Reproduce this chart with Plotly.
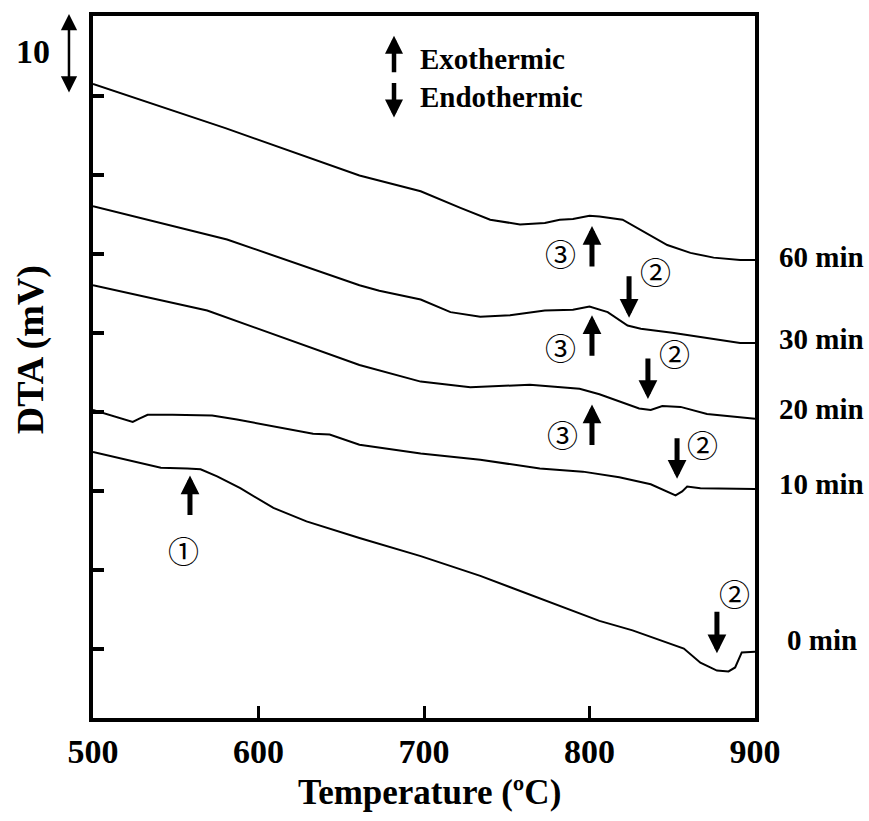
import plotly.graph_objects as go

# DTA traces (temperature in °C, DTA signal in mV, curves offset vertically)
temp_60 = [500, 580, 661, 698, 722, 740, 758, 773, 782, 790, 800, 806, 820, 831, 847, 861, 875, 891, 900]
dta_60 = [71.5, 65.9, 59.9, 57.9, 55.8, 54.3, 53.7, 53.9, 54.3, 54.4, 54.8, 54.7, 54.3, 53.0, 51.1, 50.1, 49.5, 49.2, 49.2]

temp_30 = [500, 581, 661, 673, 698, 716, 734, 752, 773, 790, 800, 811, 823, 831, 850, 875, 891, 900]
dta_30 = [56.0, 51.8, 46.0, 45.3, 44.2, 42.6, 42.0, 42.2, 42.8, 42.9, 43.3, 42.6, 40.9, 40.5, 40.0, 39.2, 38.7, 38.7]

temp_20 = [500, 569, 661, 698, 728, 764, 794, 806, 830, 837, 844, 855, 871, 900]
dta_20 = [46.0, 42.8, 35.9, 33.8, 33.1, 33.4, 32.9, 32.2, 30.4, 30.2, 30.7, 30.6, 29.7, 29.1]

temp_10 = [500, 518, 524, 528, 533, 548, 572, 587, 609, 633, 643, 661, 698, 734, 770, 796, 818, 837, 852, 856, 859, 867, 900]
dta_10 = [30.2, 29.0, 28.7, 29.1, 29.6, 29.6, 29.5, 29.0, 28.1, 27.2, 27.1, 25.8, 24.7, 23.9, 22.8, 22.4, 21.7, 20.8, 19.4, 19.9, 20.5, 20.3, 20.2]

temp_0 = [500, 533, 541, 557, 565, 575, 589, 609, 629, 661, 698, 734, 770, 806, 826, 857, 867, 877, 884, 888, 892, 900]
dta_0 = [24.9, 23.3, 22.9, 22.8, 22.7, 21.8, 20.3, 17.8, 16.1, 14.0, 11.7, 9.2, 6.3, 3.5, 2.3, 0.0, -1.8, -2.8, -2.9, -2.4, -0.5, -0.4]

series_labels = ["60 min", "30 min", "20 min", "10 min", "0 min"]
x_ticks = [500, 600, 700, 800, 900]
y_ticks = [0, 10, 20, 30, 40, 50, 60, 70]

SERIF = "Liberation Serif"
CIRC = "Noto Sans CJK JP"


def bold(size):
    return dict(family=SERIF, size=size, color="black", weight="bold")


fig = go.Figure()
for tx, ty in [(temp_60, dta_60), (temp_30, dta_30), (temp_20, dta_20),
               (temp_10, dta_10), (temp_0, dta_0)]:
    fig.add_trace(go.Scatter(x=tx, y=ty, mode="lines",
                             line=dict(color="black", width=2),
                             showlegend=False, hoverinfo="skip"))

ann = []

# curve labels to the right of the frame (paper coordinates)
label_pos = [(1.033, 0.657), (1.033, 0.540), (1.033, 0.4405), (1.033, 0.334),
             (1.045, 0.1105)]
for (lx, ly), txt in zip(label_pos, series_labels):
    ann.append(dict(x=lx, y=ly, xref="paper", yref="paper", text=txt,
                    showarrow=False, xanchor="left", yanchor="middle",
                    font=bold(29)))

# event arrows: (temperature, tip DTA, tail offset px)
arrows = [(558.6, 21.9, 41), (801.5, 53.5, 42), (823.9, 41.9, -43),
          (801.5, 42.2, 42), (835.3, 31.6, -42), (801.5, 30.9, 42),
          (852.9, 21.5, -42), (877.0, -0.6, -43)]
for ax_, ay_, off in arrows:
    ann.append(dict(x=ax_, y=ay_, xref="x", yref="y", ax=0, ay=off, text="",
                    showarrow=True, arrowhead=2, arrowwidth=5, arrowsize=0.75,
                    arrowcolor="black", standoff=0))

# circled event numbers
marks = [("①", 554.4, 12.6), ("③", 782.2, 50.1), ("②", 839.6, 47.9),
         ("③", 782.2, 38.2), ("②", 851.6, 37.5), ("③", 783.4, 27.2),
         ("②", 868.0, 25.9), ("②", 887.9, 7.1)]
for t, mx, my in marks:
    ann.append(dict(x=mx, y=my, xref="x", yref="y", text=t, showarrow=False,
                    xanchor="center", yanchor="middle",
                    font=dict(family=CIRC, size=31, color="black")))

# exo / endo legend
ann.append(dict(x=0.4547, y=0.9717, xref="paper", yref="paper", ax=0, ay=38,
                text="", showarrow=True, arrowhead=2, arrowwidth=4.5,
                arrowsize=0.8, arrowcolor="black", standoff=0))
ann.append(dict(x=0.4547, y=0.8555, xref="paper", yref="paper", ax=0, ay=-36,
                text="", showarrow=True, arrowhead=2, arrowwidth=4.5,
                arrowsize=0.8, arrowcolor="black", standoff=0))
ann.append(dict(x=0.491, y=0.939, xref="paper", yref="paper", text="Exothermic",
                showarrow=False, xanchor="left", yanchor="middle", font=bold(29)))
ann.append(dict(x=0.491, y=0.885, xref="paper", yref="paper", text="Endothermic",
                showarrow=False, xanchor="left", yanchor="middle", font=bold(29)))

# 10 mV scale bar
ann.append(dict(x=-0.0363, y=1.0028, xref="paper", yref="paper", ax=0, ay=80,
                text="", showarrow=True, arrowside="end+start",
                arrowhead=2, startarrowhead=2, arrowwidth=2.5,
                arrowsize=1.3, startarrowsize=1.3, arrowcolor="black", standoff=0,
                startstandoff=0))
ann.append(dict(x=-0.0906, y=0.950, xref="paper", yref="paper", text="10",
                showarrow=False, xanchor="center", yanchor="middle", font=bold(34)))

# axis titles
ann.append(dict(x=-0.095, y=0.524, xref="paper", yref="paper", text="DTA (mV)",
                textangle=-90, showarrow=False, xanchor="center", yanchor="middle",
                font=bold(38)))
ann.append(dict(x=0.509, y=-0.106, xref="paper", yref="paper",
                text="Temperature (ºC)", showarrow=False,
                xanchor="center", yanchor="middle", font=bold(35)))

fig.update_layout(
    width=869, height=821,
    margin=dict(l=93, r=114, t=12, b=103),
    paper_bgcolor="white", plot_bgcolor="white",
    annotations=ann,
    xaxis=dict(range=[500, 900], tickvals=x_ticks,
               ticktext=[str(v) for v in x_ticks],
               ticks="inside", ticklen=12, tickwidth=3, tickcolor="black",
               showline=True, linewidth=4, linecolor="black", mirror=True,
               showgrid=False, zeroline=False, tickfont=bold(34)),
    yaxis=dict(range=[-8.8, 80.1], tickvals=y_ticks, showticklabels=False,
               ticks="inside", ticklen=11, tickwidth=4, tickcolor="black",
               showline=True, linewidth=4, linecolor="black", mirror=True,
               showgrid=False, zeroline=False),
)

fig.write_html("out.html")
